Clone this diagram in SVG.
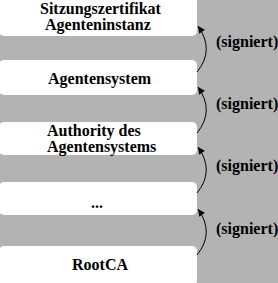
<svg xmlns="http://www.w3.org/2000/svg" width="278" height="283" viewBox="0 0 278 283">
<defs>
<style>
.box{fill:#ffffff;stroke:none}
.t{font-family:'Liberation Serif','DejaVu Serif','Times New Roman',serif;font-weight:bold;font-size:16px;fill:#000}
.c{fill:none;stroke:#000;stroke-width:1}
</style>
<marker id="ah" viewBox="0 0 10 10" refX="10" refY="5" markerWidth="9" markerHeight="7" markerUnits="userSpaceOnUse" orient="auto">
<path d="M0,0 L10,5 L0,10 z" fill="#000"/>
</marker>
</defs>
<rect x="0" y="0" width="278" height="283" fill="#b3b3b3"/>
<g id="n1"><rect class="box" x="-1" y="-5" width="198" height="41" rx="5"/>
<text class="t" x="40" y="14">Sitzungszertifikat</text>
<text class="t" x="45" y="30">Agenteninstanz</text></g>
<g id="n2"><rect class="box" x="-1" y="60" width="198" height="35" rx="5"/>
<text class="t" x="48" y="84">Agentensystem</text></g>
<g id="n3"><rect class="box" x="-1" y="122" width="198" height="33" rx="5"/>
<text class="t" x="47" y="136">Authority des</text>
<text class="t" x="47" y="152">Agentensystems</text></g>
<g id="n4"><rect class="box" x="-1" y="182" width="198" height="33" rx="5"/>
<text class="t" x="97" y="208" text-anchor="middle">...</text></g>
<g id="n5"><rect class="box" x="-1" y="246" width="198" height="40" rx="5"/>
<text class="t" x="100" y="270" text-anchor="middle">RootCA</text></g>
<g id="connectors">
<path class="c" d="M197,72 Q215,50 198,26" marker-end="url(#ah)"/>
<path class="c" d="M197,133 Q215,111 198,87" marker-end="url(#ah)"/>
<path class="c" d="M197,193 Q215,171 198,147" marker-end="url(#ah)"/>
<path class="c" d="M197,255 Q215,233 198,209" marker-end="url(#ah)"/>
<text class="t" x="216" y="47">(signiert)</text>
<text class="t" x="216" y="109">(signiert)</text>
<text class="t" x="216" y="171">(signiert)</text>
<text class="t" x="216" y="234">(signiert)</text>
</g>
</svg>
